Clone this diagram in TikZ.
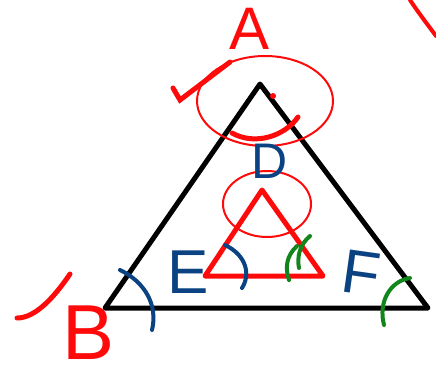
\documentclass[tikz,border=0pt]{standalone}
\usepackage{xcolor}
\usepackage{tikz}
\usepackage{fontspec}
\setsansfont{Liberation Sans}
\usetikzlibrary{calc}
\definecolor{inkred}{HTML}{FF0A0A}
\definecolor{inkblue}{HTML}{0A4282}
\definecolor{inkgreen}{HTML}{12861A}

\begin{document}
\begin{tikzpicture}[x=1pt, y=-1pt,
    outline/.style={line width=5pt, black, line join=round, line cap=round},
    innertri/.style={line width=5pt, inkred, line join=round, line cap=round},
    ring/.style={line width=2pt, inkred},
    pen/.style={line width=4pt, line cap=round},
    letter/.style={inner sep=0pt},
]
    \useasboundingbox (0, 0) rectangle (436, 376);

    % Outer triangle
    \coordinate (topA) at (260, 84);
    \coordinate (cornerB) at (105, 308);
    \coordinate (cornerC) at (428, 308);
    \draw[outline] (topA) -- (cornerB) -- (cornerC) -- cycle;

    % Inner red triangle
    \coordinate (innerTop) at (262, 190);
    \coordinate (innerL) at (205, 276);
    \coordinate (innerR) at (323, 276);
    \draw[innertri] (innerTop) -- (innerL) -- (innerR) -- cycle;

    % Circles round the apexes
    \draw[ring] (265, 101) ellipse (68 and 45);
    \draw[ring] (267, 204) ellipse (44 and 33);
    \fill[inkred] (273, 96) circle (3);

    % Red marks
    \draw[pen, inkred, line width=5pt] (173, 88) -- (180, 100) -- (230, 62);
    \draw[pen, inkred, line width=5pt] (232, 133) .. controls (255, 146) and (285, 136) .. (298, 117);
    \draw[pen, inkred] (410, 0) .. controls (420, 15) and (428, 25) .. (436, 36);
    \draw[pen, inkred, line width=5pt] (17, 318) .. controls (36, 318) and (55, 296) .. (70, 274);

    % Blue angle arcs
    \draw[pen, inkblue] (120, 270) .. controls (145, 282) and (158, 305) .. (152, 330);
    \draw[pen, inkblue] (225, 245) .. controls (246, 255) and (251, 274) .. (242, 288);

    % Green angle arcs
    \draw[pen, inkgreen] (297, 246) .. controls (286, 256) and (285, 268) .. (289, 280);
    \draw[pen, inkgreen] (310, 236) .. controls (299, 245) and (297, 258) .. (299, 268);
    \draw[pen, inkgreen] (410, 278) .. controls (390, 281) and (378, 302) .. (384, 325);

    % Letters
    \node[letter, inkred, font=\fontsize{60}{60}\sffamily] (labelA) at (250, 29) {A};
    \node[letter, inkred, font=\fontsize{78}{78}\sffamily] (labelB) at (89, 333) {B};
    \node[letter, inkblue, font=\fontsize{50}{50}\sffamily] (labelD) at (270, 161) {D};
    \node[letter, inkblue, font=\fontsize{62}{62}\sffamily] (labelE) at (188, 272) {E};
    \node[letter, inkblue, font=\fontsize{62}{62}\sffamily, rotate=-8] (labelF) at (361, 273) {F};
\end{tikzpicture}
\end{document}
